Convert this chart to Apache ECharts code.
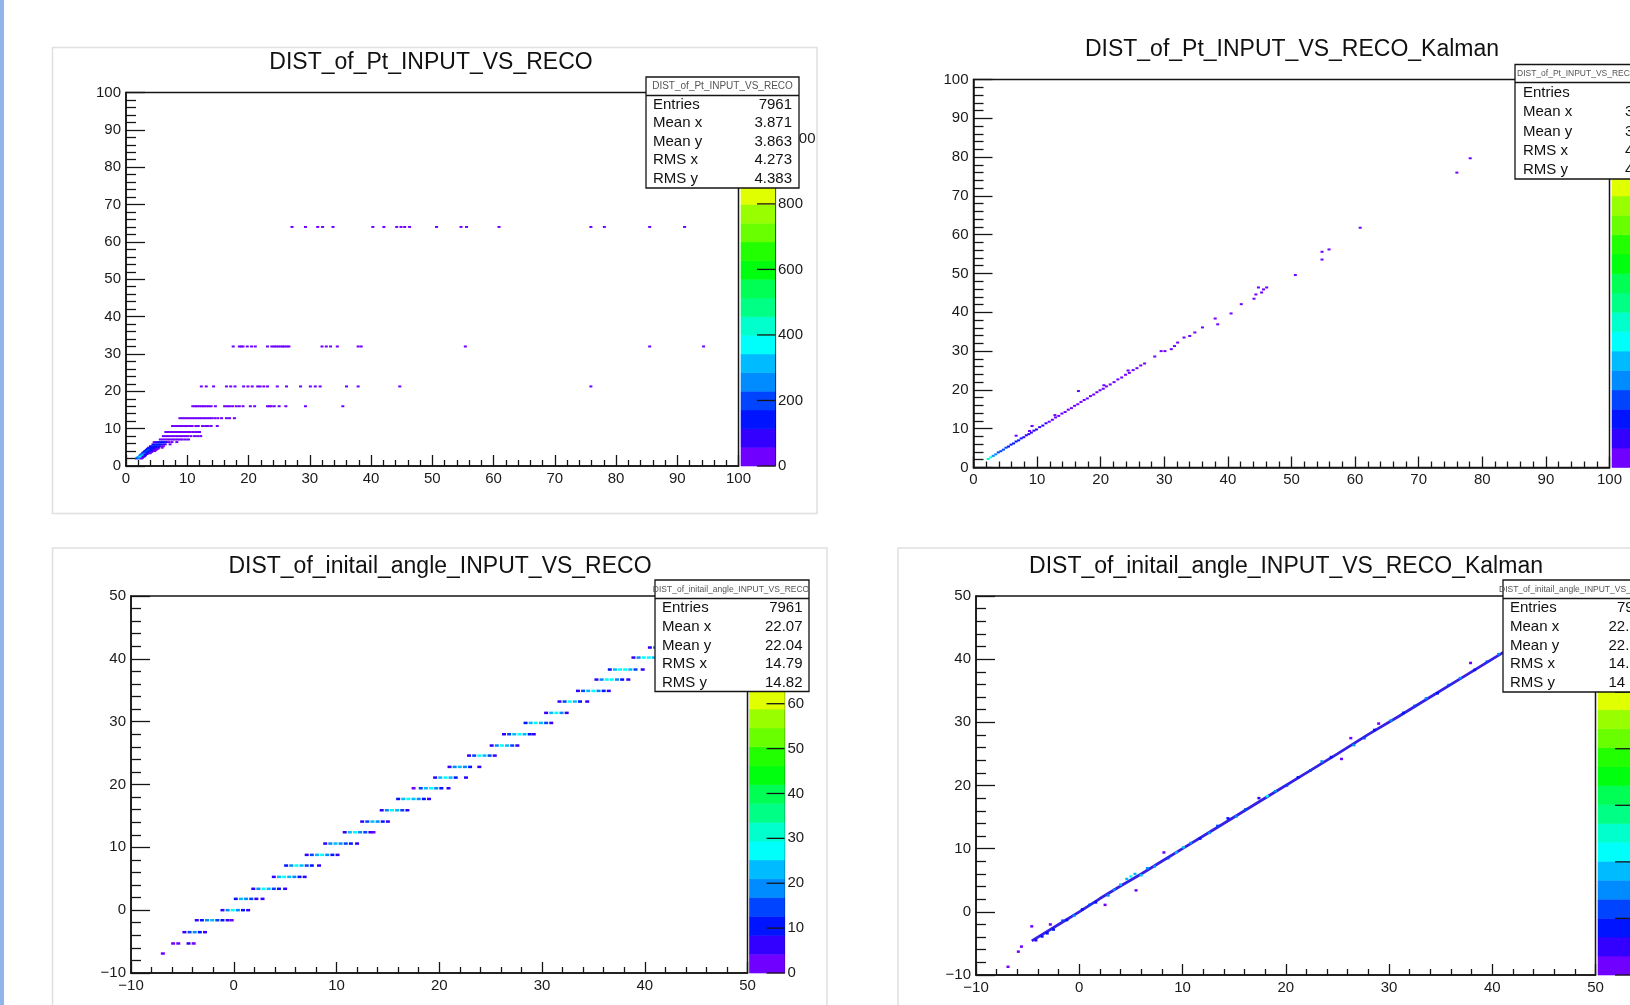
<!DOCTYPE html>
<html>
<head>
<meta charset="utf-8">
<title>DIST_of_Pt / DIST_of_initail_angle INPUT_VS_RECO</title>
<script src="https://cdn.jsdelivr.net/npm/echarts/dist/echarts.min.js"></script>
<style>
    html, body { margin: 0; padding: 0; background: #fff; }
    #chart { width: 1630px; height: 1005px; }
</style>
</head>
<body>
<div id="chart"></div>
<script>
var FONT = "'Liberation Sans', Arial, Helvetica, sans-serif";

// ROOT "pretty" palette, 20 contour colours violet -> red
var PALETTE = ['#7000ff', '#3300ff', '#0014ff', '#0044ff', '#008bff', '#00bbff', '#00fffb', '#00ffcc', '#00ff85', '#00ff55',
               '#00ff0e', '#22ff00', '#69ff00', '#99ff00', '#e0ff00', '#ffee00', '#ffa700', '#ff7700', '#ff3000', '#ff0000'];

// ---- axes / palette ranges ----
var ptRange = [0, 100], ptStep = 10;
var angleRange = [-10, 50], angleStep = 10;
var zMax = [1140, 1300, 84, 67];      // palette top of each pad
var zStep = [200, 200, 10, 10];
var zTicks = [
    [0, 200, 400, 600, 800, 1000],
    [0, 200, 400, 600, 800, 1000, 1200],
    [0, 10, 20, 30, 40, 50, 60, 70, 80],
    [0, 10, 20, 30, 40, 50, 60]
];

// ---- stats boxes ----
var statNames = ['Entries', 'Mean x', 'Mean y', 'RMS x', 'RMS y'];
var ptRecoStats = ['7961', '3.871', '3.863', '4.273', '4.383'];
var ptKalmanStats = ['', '3', '3', '4', '4'];          // cut by the picture edge
var angleRecoStats = ['7961', '22.07', '22.04', '14.79', '14.82'];
var angleKalmanStats = ['79', '22.', '22.', '14.', '14'];

// ---- DIST_of_Pt_INPUT_VS_RECO : rows of cells (reco pt is quantised) ----
var ptRecoRows = [
    {y: 64.0, c: 1, x: [27.1, 29.3, 31.3, 32.1, 33.8, 40.3, 42.1, 44.2, 44.9, 45.5, 46.3, 50.7, 54.7, 55.6, 60.9, 75.9, 78.1, 85.5, 91.2]},
    {y: 32.0, c: 2, x: [17.5, 18.5, 18.8, 19.1, 19.8, 20.5, 21.1, 23.1, 23.8, 24.2, 24.5, 24.9, 25.3, 25.6, 25.9, 26.3, 26.6, 32.0, 32.7, 33.4, 34.5, 37.9, 38.4, 55.4, 85.5, 94.3]},
    {y: 21.3, c: 2, x: [12.3, 13.1, 14.3, 16.4, 17.1, 17.8, 19.2, 19.9, 20.6, 21.5, 21.9, 22.5, 23.1, 24.7, 26.2, 28.5, 30.1, 30.9, 31.7, 36.0, 37.9, 44.7, 75.9]},
    {y: 16.0, c: 3, x: [10.9, 11.3, 11.6, 12.0, 12.4, 12.7, 13.1, 13.5, 13.9, 14.6, 16.1, 16.5, 16.9, 17.4, 18.0, 18.5, 19.1, 20.3, 21.0, 23.1, 23.4, 23.7, 24.2, 25.0, 26.1, 29.3, 35.4]},
    {y: 12.8, c: 12, x: [8.8, 9.2, 9.6, 10.0, 10.4, 10.8, 11.2, 11.6, 12.0, 12.4, 12.8, 13.2, 13.6, 14.0, 14.5, 15.0, 15.6, 16.4, 16.9, 17.7]},
    {y: 10.7, c: 18, x: [7.6, 8.0, 8.4, 8.8, 9.2, 9.6, 10.0, 10.4, 10.8, 11.4, 11.8, 12.5, 13.0, 13.4, 13.9, 14.9]},
    {y: 9.1, c: 25, x: [6.5, 6.9, 7.3, 7.7, 8.1, 8.5, 8.9, 9.3, 9.7, 10.1, 10.5, 11.0, 11.5, 12.0]},
    {y: 8.0, c: 30, x: [6.1, 6.5, 6.9, 7.3, 7.7, 8.1, 8.5, 8.9, 9.3, 9.7, 10.1, 10.6, 11.2, 11.7, 12.2]},
    {y: 7.1, c: 40, x: [5.6, 6.0, 6.4, 6.8, 7.2, 7.6, 8.0, 8.4, 8.8, 9.2, 9.7, 10.2]},
    {y: 6.4, c: [50, 90, 130, 150, 120, 60, 30, 20, 10], x: [4.6, 5.0, 5.4, 5.8, 6.2, 6.6, 7.0, 7.5, 8.3]},
    {y: 5.8, c: [90, 130, 160, 140, 100, 60, 20], x: [4.4, 4.8, 5.2, 5.6, 6.0, 6.4, 7.2]},
    {y: 5.3, c: [100, 150, 170, 130, 80, 30], x: [4.0, 4.4, 4.8, 5.2, 5.6, 6.1]},
    {y: 4.9, c: [110, 160, 170, 120, 60, 20], x: [3.7, 4.1, 4.5, 4.9, 5.3, 5.9]},
    {y: 4.6, c: [120, 170, 160, 100, 40], x: [3.5, 3.9, 4.3, 4.7, 5.2]},
    {y: 4.3, c: [130, 180, 150, 90, 30], x: [3.3, 3.7, 4.1, 4.5, 4.9]},
    {y: 4.0, c: [140, 190, 150, 80, 20], x: [3.1, 3.5, 3.9, 4.3, 4.7]},
    {y: 3.8, c: [150, 200, 140, 60], x: [3.0, 3.4, 3.8, 4.2]},
    {y: 3.6, c: [160, 210, 130, 50], x: [2.8, 3.2, 3.6, 4.0]},
    {y: 3.4, c: [180, 220, 120, 40], x: [2.7, 3.1, 3.5, 3.9]},
    {y: 3.2, c: [200, 240, 100], x: [2.6, 3.0, 3.4]},
    {y: 3.0, c: [220, 260, 90], x: [2.4, 2.8, 3.2]},
    {y: 2.8, c: [240, 300, 80], x: [2.3, 2.7, 3.1]},
    {y: 2.6, c: [260, 340, 70], x: [2.2, 2.6, 3.0]},
    {y: 2.4, c: [300, 380, 60], x: [2.0, 2.4, 2.8]},
    {y: 2.2, c: [280, 360, 50], x: [1.9, 2.3, 2.7]},
    {y: 2.0, c: [200, 260, 40], x: [1.7, 2.1, 2.5]}
];

// ---- DIST_of_Pt_INPUT_VS_RECO_Kalman : [x, y, count] ----
var ptKalmanCells = [
    [2.3, 2.2, 460], [2.7, 2.6, 430], [3.1, 3.0, 300], [3.5, 3.4, 260], [3.9, 3.9, 240], [4.3, 4.2, 220],
    [4.7, 4.6, 210], [5.1, 5.1, 200], [5.5, 5.4, 180], [5.9, 5.9, 170], [6.3, 6.2, 160], [6.7, 6.7, 150],
    [7.1, 7.0, 140], [7.5, 7.5, 130], [7.9, 7.8, 120], [8.3, 8.3, 110], [8.7, 8.6, 105], [9.1, 9.0, 100],
    [9.5, 9.5, 90], [9.9, 9.8, 85], [10.4, 10.4, 80], [10.9, 10.8, 70], [11.4, 11.4, 65], [11.9, 11.8, 60],
    [12.4, 12.3, 55], [12.9, 12.9, 50], [13.4, 13.3, 45], [13.9, 13.9, 40], [14.4, 14.3, 36], [14.9, 14.9, 32],
    [15.4, 15.3, 30], [15.9, 15.9, 27], [16.4, 16.3, 25], [16.9, 16.9, 22], [17.4, 17.4, 20], [17.9, 17.8, 18],
    [18.4, 18.4, 16], [18.9, 18.8, 14], [19.4, 19.4, 12], [19.9, 19.9, 11], [20.4, 20.3, 10], [20.9, 20.9, 9],
    [21.5, 21.4, 8], [22.1, 22.0, 7], [22.7, 22.7, 6], [23.3, 23.2, 5], [23.9, 23.9, 5], [24.5, 24.4, 4],
    [25.1, 25.1, 3], [25.7, 25.6, 3], [26.3, 26.3, 2], [26.9, 26.8, 2],
    [9.2, 10.7, 1], [6.7, 8.2, 1], [16.5, 19.7, 1], [12.8, 13.5, 3], [8.8, 9.4, 8], [20.5, 21.2, 2], [24.3, 25.0, 2],
    [28.5, 28.6, 1], [29.5, 30.0, 1], [30.1, 30.0, 1], [31.1, 30.5, 1], [31.6, 31.3, 1], [32.1, 32.2, 1],
    [33.1, 33.5, 1], [34.0, 33.9, 1], [34.8, 34.8, 1], [36.0, 36.1, 1], [38.0, 38.4, 1], [38.4, 36.9, 1],
    [40.5, 39.7, 1], [42.1, 42.1, 1], [44.1, 43.5, 1], [44.4, 44.6, 1], [44.8, 46.4, 1], [45.3, 45.1, 1],
    [45.6, 45.9, 1], [46.1, 46.4, 1], [50.6, 49.6, 1], [54.8, 53.6, 1], [54.8, 55.6, 1], [55.9, 56.2, 1],
    [60.8, 61.8, 1], [76.0, 76.0, 1], [78.1, 79.7, 1]
];

// ---- DIST_of_initail_angle_INPUT_VS_RECO : one row per reco level ----
var angleRecoRows = [
    {y: -6.9, x: [-6.9], c: [3]},
    {y: -5.3, x: [-5.9, -5.4, -4.4, -3.9], c: [4, 3, 5, 4]},
    {y: -3.5, x: [-4.8, -4.3, -3.8, -3.3, -2.8], c: [6, 14, 20, 12, 8]},
    {y: -1.6, x: [-3.6, -3.1, -2.6, -2.1, -1.6, -1.1, -0.6, -0.2], c: [5, 12, 18, 22, 15, 10, 8, 4]},
    {y: 0.0, x: [-1.1, -0.6, -0.1, 0.4, 0.9, 1.4], c: [8, 20, 26, 18, 12, 6]},
    {y: 1.8, x: [0.2, 0.7, 1.2, 1.7, 2.2, 2.8], c: [10, 24, 20, 15, 8, 5]},
    {y: 3.4, x: [1.9, 2.4, 2.9, 3.4, 3.9, 4.4, 5.0], c: [6, 18, 26, 22, 14, 9, 5]},
    {y: 5.3, x: [3.9, 4.4, 4.9, 5.4, 5.9, 6.4, 6.9], c: [8, 22, 27, 24, 18, 10, 6]},
    {y: 7.1, x: [5.1, 5.6, 6.1, 6.6, 7.1, 7.6, 8.3], c: [12, 20, 27, 25, 16, 10, 6]},
    {y: 8.8, x: [7.1, 7.6, 8.1, 8.6, 9.1, 9.6, 10.1], c: [5, 14, 24, 26, 20, 12, 6]},
    {y: 10.6, x: [8.9, 9.4, 9.9, 10.4, 10.9, 11.4, 12.0], c: [6, 18, 24, 20, 14, 10, 5]},
    {y: 12.4, x: [10.8, 11.3, 11.8, 12.3, 12.8, 13.3, 13.6], c: [8, 22, 26, 20, 14, 6, 4]},
    {y: 14.1, x: [12.5, 13.0, 13.5, 14.0, 14.5, 15.0], c: [6, 14, 24, 20, 12, 6]},
    {y: 15.9, x: [14.4, 14.9, 15.4, 15.9, 16.4, 16.9], c: [5, 20, 26, 22, 14, 6]},
    {y: 17.7, x: [16.0, 16.5, 17.0, 17.5, 18.0, 18.5, 19.0], c: [12, 24, 27, 24, 18, 10, 5]},
    {y: 19.4, x: [17.5, 18.2, 18.7, 19.2, 19.7, 20.2, 20.9], c: [4, 14, 22, 26, 20, 12, 6]},
    {y: 21.1, x: [19.6, 20.1, 20.6, 21.1, 21.6, 22.6], c: [8, 24, 27, 22, 12, 5]},
    {y: 22.8, x: [21.0, 21.5, 22.0, 22.5, 23.0, 23.9], c: [6, 18, 25, 20, 12, 6]},
    {y: 24.6, x: [22.9, 23.4, 23.9, 24.4, 24.9, 25.4], c: [5, 16, 26, 24, 14, 8]},
    {y: 26.2, x: [25.1, 25.6, 26.1, 26.6, 27.1, 27.6], c: [8, 20, 27, 25, 16, 8]},
    {y: 28.0, x: [26.3, 26.8, 27.3, 27.8, 28.3, 28.8, 29.2], c: [6, 14, 24, 27, 22, 12, 6]},
    {y: 29.8, x: [28.4, 28.9, 29.4, 29.9, 30.4, 30.9], c: [10, 22, 27, 24, 14, 6]},
    {y: 31.4, x: [30.4, 30.9, 31.4, 31.9, 32.4], c: [8, 24, 27, 18, 8]},
    {y: 33.2, x: [31.7, 32.2, 32.7, 33.2, 33.7, 34.4], c: [6, 14, 26, 22, 12, 5]},
    {y: 34.9, x: [33.5, 34.0, 34.5, 35.0, 35.5, 36.0, 36.5], c: [5, 16, 24, 27, 18, 10, 6]},
    {y: 36.7, x: [35.3, 35.8, 36.3, 36.8, 37.3, 37.8, 38.4], c: [6, 18, 26, 27, 20, 12, 6]},
    {y: 38.3, x: [36.6, 37.1, 37.6, 38.1, 38.6, 39.1, 39.8], c: [10, 24, 27, 28, 24, 16, 8]},
    {y: 40.2, x: [38.9, 39.4, 39.9, 40.4, 40.9, 41.4, 41.9], c: [8, 20, 26, 27, 22, 12, 6]},
    {y: 41.8, x: [40.5, 41.0, 41.5, 42.0, 42.5, 43.0], c: [6, 18, 26, 24, 14, 6]},
    {y: 43.6, x: [42.2, 42.7, 43.2, 43.7, 44.2, 44.7], c: [6, 18, 24, 24, 14, 6]}
];

// ---- DIST_of_initail_angle_INPUT_VS_RECO_Kalman : ridge + cells ----
var angleKalmanLine = [
    [-4.6, -4.6], [-2.0, -2.0], [0.0, 0.0], [2.0, 2.1], [4.0, 4.1], [6.0, 6.0], [8.0, 8.0], [10.0, 10.0],
    [13.0, 13.0], [16.0, 16.0], [19.0, 19.0], [22.0, 22.0], [25.0, 25.0], [28.0, 28.1], [31.0, 31.0],
    [34.0, 34.0], [37.0, 37.0], [40.0, 40.0], [43.0, 43.0], [46.0, 46.0], [49.5, 49.5]
];
var angleKalmanCells = [
    [-6.9, -8.7, 1], [-5.9, -6.3, 1], [-5.6, -5.5, 1], [-4.6, -2.3, 1], [-2.8, -2.0, 1], [-4.2, -4.5, 6],
    [-3.6, -3.9, 8], [-3.1, -3.4, 10], [-2.5, -2.8, 7], [-1.6, -1.4, 12], [-1.2, -1.3, 9], [-0.5, -0.6, 14],
    [0.3, 0.4, 10], [1.0, 1.1, 12], [1.6, 1.5, 9], [2.5, 1.1, 1], [2.8, 2.6, 14], [3.4, 3.5, 16],
    [4.0, 4.3, 18], [4.6, 5.2, 20], [5.0, 5.6, 22], [5.4, 6.0, 18], [5.5, 3.4, 1], [6.0, 5.8, 20],
    [6.6, 6.9, 16], [7.3, 7.2, 14], [8.2, 9.4, 1], [8.6, 8.5, 12], [9.4, 9.4, 18], [10.1, 10.2, 20],
    [10.8, 10.9, 14], [11.7, 11.6, 10], [12.6, 12.5, 14], [13.4, 13.6, 12], [14.4, 14.8, 10], [15.2, 15.1, 14],
    [16.1, 16.2, 12], [17.4, 18.0, 4], [18.2, 18.3, 22], [19.0, 19.1, 14], [20.1, 20.0, 12], [21.2, 21.3, 10],
    [22.4, 22.4, 12], [23.5, 23.8, 14], [24.4, 24.5, 10], [25.4, 24.2, 2], [26.3, 27.5, 2], [26.6, 26.4, 14],
    [27.6, 27.5, 12], [28.6, 28.8, 10], [29.0, 29.8, 3], [30.2, 30.3, 14], [31.4, 31.5, 10], [32.5, 32.6, 12],
    [33.6, 33.8, 14], [34.7, 34.6, 10], [35.8, 35.9, 12], [36.9, 37.0, 14], [37.9, 39.4, 2], [38.3, 38.3, 10],
    [39.5, 39.6, 12], [40.6, 40.8, 14]
];

// ---- pad layout (pixels) ----
var plots = [
    {left: 126, top: 92.5, width: 612.5, height: 373.5},
    {left: 973.5, top: 79.5, width: 636, height: 388},
    {left: 131, top: 596, width: 616.5, height: 377},
    {left: 976, top: 596, width: 619.5, height: 379}
];
var pads = [
    {left: 741, top: 92.5, width: 34, height: 373.5},
    {left: 1612, top: 79.5, width: 38, height: 388},
    {left: 749.5, top: 596, width: 35, height: 377},
    {left: 1598, top: 596, width: 35, height: 379}
];

function rowsToCells(rows) {
    var out = [];
    rows.forEach(function (r) {
        r.x.forEach(function (x, i) {
            out.push([x, r.y, Array.isArray(r.c) ? r.c[i] : r.c]);
        });
    });
    return out;
}

function paletteBands(zmax) {
    var n = PALETTE.length, out = [];
    for (var i = 0; i < n; i++) out.push([zmax * i / n, zmax * (i + 1) / n, i]);
    return out;
}

function piecesFor(zmax) {
    return paletteBands(zmax).map(function (b, i) {
        var p = {gte: b[0], color: PALETTE[i]};
        if (i < PALETTE.length - 1) p.lt = b[1];
        return p;
    });
}

function renderBand(params, api) {
    var lo = api.coord([0, api.value(0)]);
    var hi = api.coord([1, api.value(1)]);
    var col = PALETTE[api.value(2)];
    return {
        type: 'rect',
        shape: {x: lo[0], y: hi[1], width: hi[0] - lo[0], height: lo[1] - hi[1]},
        style: {fill: col, stroke: col, lineWidth: 0.6}
    };
}

var lineCol = '#151515';

// palette tick marks: from the right edge of the pad, pointing inwards
function renderZTick(params, api) {
    var p = api.coord([1, api.value(0)]);
    return {
        type: 'line',
        shape: {x1: p[0] - 18, y1: p[1], x2: p[0], y2: p[1]},
        style: {stroke: lineCol, lineWidth: 1.3}
    };
}

// ROOT writes negative numbers with a real minus sign
function rootLabel(v) {
    return String(v).replace('-', '\u2212');
}

function plotAxis(gi, range, step, tickLen, minorLen) {
    return {
        type: 'value', gridIndex: gi, min: range[0], max: range[1], interval: step,
        axisLine: {show: true, onZero: false, lineStyle: {color: lineCol, width: 1.5}},
        axisTick: {show: true, inside: true, length: tickLen, lineStyle: {color: lineCol, width: 1.3}},
        minorTick: {show: true, splitNumber: 5, length: minorLen, lineStyle: {color: lineCol, width: 1.3}},
        splitLine: {show: false}, minorSplitLine: {show: false},
        axisLabel: {margin: 5, fontSize: 15, color: '#1a1a1a', fontFamily: FONT, formatter: rootLabel}
    };
}

var grids = [], xAxes = [], yAxes = [], series = [], visualMaps = [];
var ranges = [ptRange, ptRange, angleRange, angleRange];
var steps = [ptStep, ptStep, angleStep, angleStep];

for (var i = 0; i < 4; i++) {
    var g = plots[i], p = pads[i];
    grids.push({left: g.left, top: g.top, width: g.width, height: g.height, show: true,
        borderColor: lineCol, borderWidth: 1.5, backgroundColor: 'transparent', outerBoundsMode: 'none'});
    grids.push({left: p.left, top: p.top, width: p.width, height: p.height, show: false, outerBoundsMode: 'none'});
    xAxes.push(plotAxis(2 * i, ranges[i], steps[i], 11, 6));
    yAxes.push(plotAxis(2 * i, ranges[i], steps[i], 19, 10));
    xAxes.push({type: 'value', gridIndex: 2 * i + 1, min: 0, max: 1, show: false});
    yAxes.push({
        type: 'value', gridIndex: 2 * i + 1, position: 'right', min: 0, max: zMax[i], interval: zStep[i],
        axisLine: {show: true, onZero: false, lineStyle: {color: lineCol, width: 1.2}},
        axisTick: {show: false},
        splitLine: {show: false},
        axisLabel: {margin: 3, fontSize: 15, color: '#1a1a1a', fontFamily: FONT, showMaxLabel: false}
    });
}

var cellData = [rowsToCells(ptRecoRows), ptKalmanCells, rowsToCells(angleRecoRows), angleKalmanCells];
var cellSize = [[3, 2], [3, 2], [4, 2.5], [3, 2.5]];

// Kalman angle ridge drawn under its cells
series.push({
    type: 'line', xAxisIndex: 6, yAxisIndex: 6, data: angleKalmanLine, showSymbol: false, symbol: 'none',
    lineStyle: {color: '#3420e6', width: 2.8}, silent: true, animation: false, z: 1
});
for (var k = 0; k < 4; k++) {
    series.push({
        type: 'scatter', xAxisIndex: 2 * k, yAxisIndex: 2 * k, symbol: 'rect', symbolSize: cellSize[k],
        data: cellData[k], itemStyle: {opacity: 1}, silent: true, animation: false, z: 2
    });
    visualMaps.push({type: 'piecewise', show: false, dimension: 2, seriesIndex: series.length - 1, pieces: piecesFor(zMax[k])});
    series.push({
        type: 'custom', xAxisIndex: 2 * k + 1, yAxisIndex: 2 * k + 1, data: paletteBands(zMax[k]),
        renderItem: renderBand, silent: true, animation: false, z: 2
    });
    series.push({
        type: 'custom', xAxisIndex: 2 * k + 1, yAxisIndex: 2 * k + 1,
        data: zTicks[k].map(function (v) { return [v]; }),
        renderItem: renderZTick, silent: true, animation: false, z: 3
    });
}

function txt(x, y, s, size, align, fill, top) {
    return {
        type: 'text', x: x, y: y, z: 100, zlevel: top ? 1 : 0,
        style: {text: s, font: size + 'px ' + FONT, fill: fill || '#111', textAlign: align, textVerticalAlign: 'middle',
            align: align, verticalAlign: 'middle'}
    };
}

function statsBox(o) {
    var kids = [
        {type: 'rect', z: 100, zlevel: 1, shape: {x: o.x, y: o.y, width: o.w, height: o.h}, style: {fill: '#fff', stroke: lineCol, lineWidth: 1.3}},
        {type: 'line', z: 101, zlevel: 1, shape: {x1: o.x, y1: o.sep, x2: o.x + o.w, y2: o.sep}, style: {stroke: lineCol, lineWidth: 1.3}},
        txt(o.headX, (o.y + o.sep) / 2, o.head, o.headSize, o.headAlign, '#555', true)
    ];
    statNames.forEach(function (n, j) {
        kids.push(txt(o.labelX, o.rows[j], n, 15, 'left', null, true));
        var vx = Array.isArray(o.valueX) ? o.valueX[j] : o.valueX;
        kids.push(txt(vx, o.rows[j], o.values[j], 15, o.valueAlign, null, true));
    });
    kids.forEach(function (e, j) { if (j > 1) e.z = 102; });
    return {type: 'group', z: 100, zlevel: 1, children: kids};
}

var titleFont = 23;
var graphics = [
    {type: 'rect', z: 0, shape: {x: 0, y: 0, width: 4, height: 1005}, style: {fill: '#8fb5ea'}},
    {type: 'rect', z: 0, shape: {x: 52.5, y: 47.5, width: 764.5, height: 466}, style: {fill: 'none', stroke: '#e0e0e0', lineWidth: 1.5}},
    {type: 'rect', z: 0, shape: {x: 52.5, y: 548, width: 774.5, height: 500}, style: {fill: 'none', stroke: '#e0e0e0', lineWidth: 1.5}},
    {type: 'rect', z: 0, shape: {x: 898, y: 548, width: 800, height: 500}, style: {fill: 'none', stroke: '#e0e0e0', lineWidth: 1.5}},
    txt(431, 63, 'DIST_of_Pt_INPUT_VS_RECO', titleFont, 'center'),
    txt(1292, 50, 'DIST_of_Pt_INPUT_VS_RECO_Kalman', titleFont, 'center'),
    txt(440, 566.5, 'DIST_of_initail_angle_INPUT_VS_RECO', titleFont, 'center'),
    txt(1286, 566.5, 'DIST_of_initail_angle_INPUT_VS_RECO_Kalman', titleFont, 'center'),
    statsBox({x: 646, y: 77, w: 153, h: 111, sep: 95.5, head: 'DIST_of_Pt_INPUT_VS_RECO', headSize: 10, headX: 722.5, headAlign: 'center',
        labelX: 653, valueX: 792, valueAlign: 'right', values: ptRecoStats, rows: [104.5, 123, 141.5, 160, 178.5]}),
    statsBox({x: 1515, y: 64.5, w: 170, h: 114.5, sep: 82.5, head: 'DIST_of_Pt_INPUT_VS_RECO', headSize: 8.5, headX: 1517, headAlign: 'left',
        labelX: 1523, valueX: 1625, valueAlign: 'left', values: ptKalmanStats, rows: [92.5, 112, 132, 151, 169.5]}),
    statsBox({x: 655, y: 580, w: 154, h: 111.5, sep: 598.5, head: 'DIST_of_initail_angle_INPUT_VS_RECO', headSize: 8.5, headX: 731, headAlign: 'center',
        labelX: 662, valueX: 802.5, valueAlign: 'right', values: angleRecoStats, rows: [608, 627, 645.5, 664, 683]}),
    statsBox({x: 1503, y: 580, w: 170, h: 112, sep: 598.5, head: 'DIST_of_initail_angle_INPUT_VS_RECO', headSize: 8.5, headX: 1499, headAlign: 'left',
        labelX: 1510, valueX: [1617, 1608.5, 1608.5, 1608.5, 1608.5], valueAlign: 'left', values: angleKalmanStats, rows: [608, 627, 645.5, 664, 683]})
];

var chart = echarts.init(document.getElementById('chart'), null, {renderer: 'canvas'});
chart.setOption({
    animation: false,
    backgroundColor: '#fff',
    textStyle: {fontFamily: FONT},
    grid: grids,
    xAxis: xAxes,
    yAxis: yAxes,
    visualMap: visualMaps,
    series: series,
    graphic: {elements: graphics}
});
</script>
</body>
</html>
